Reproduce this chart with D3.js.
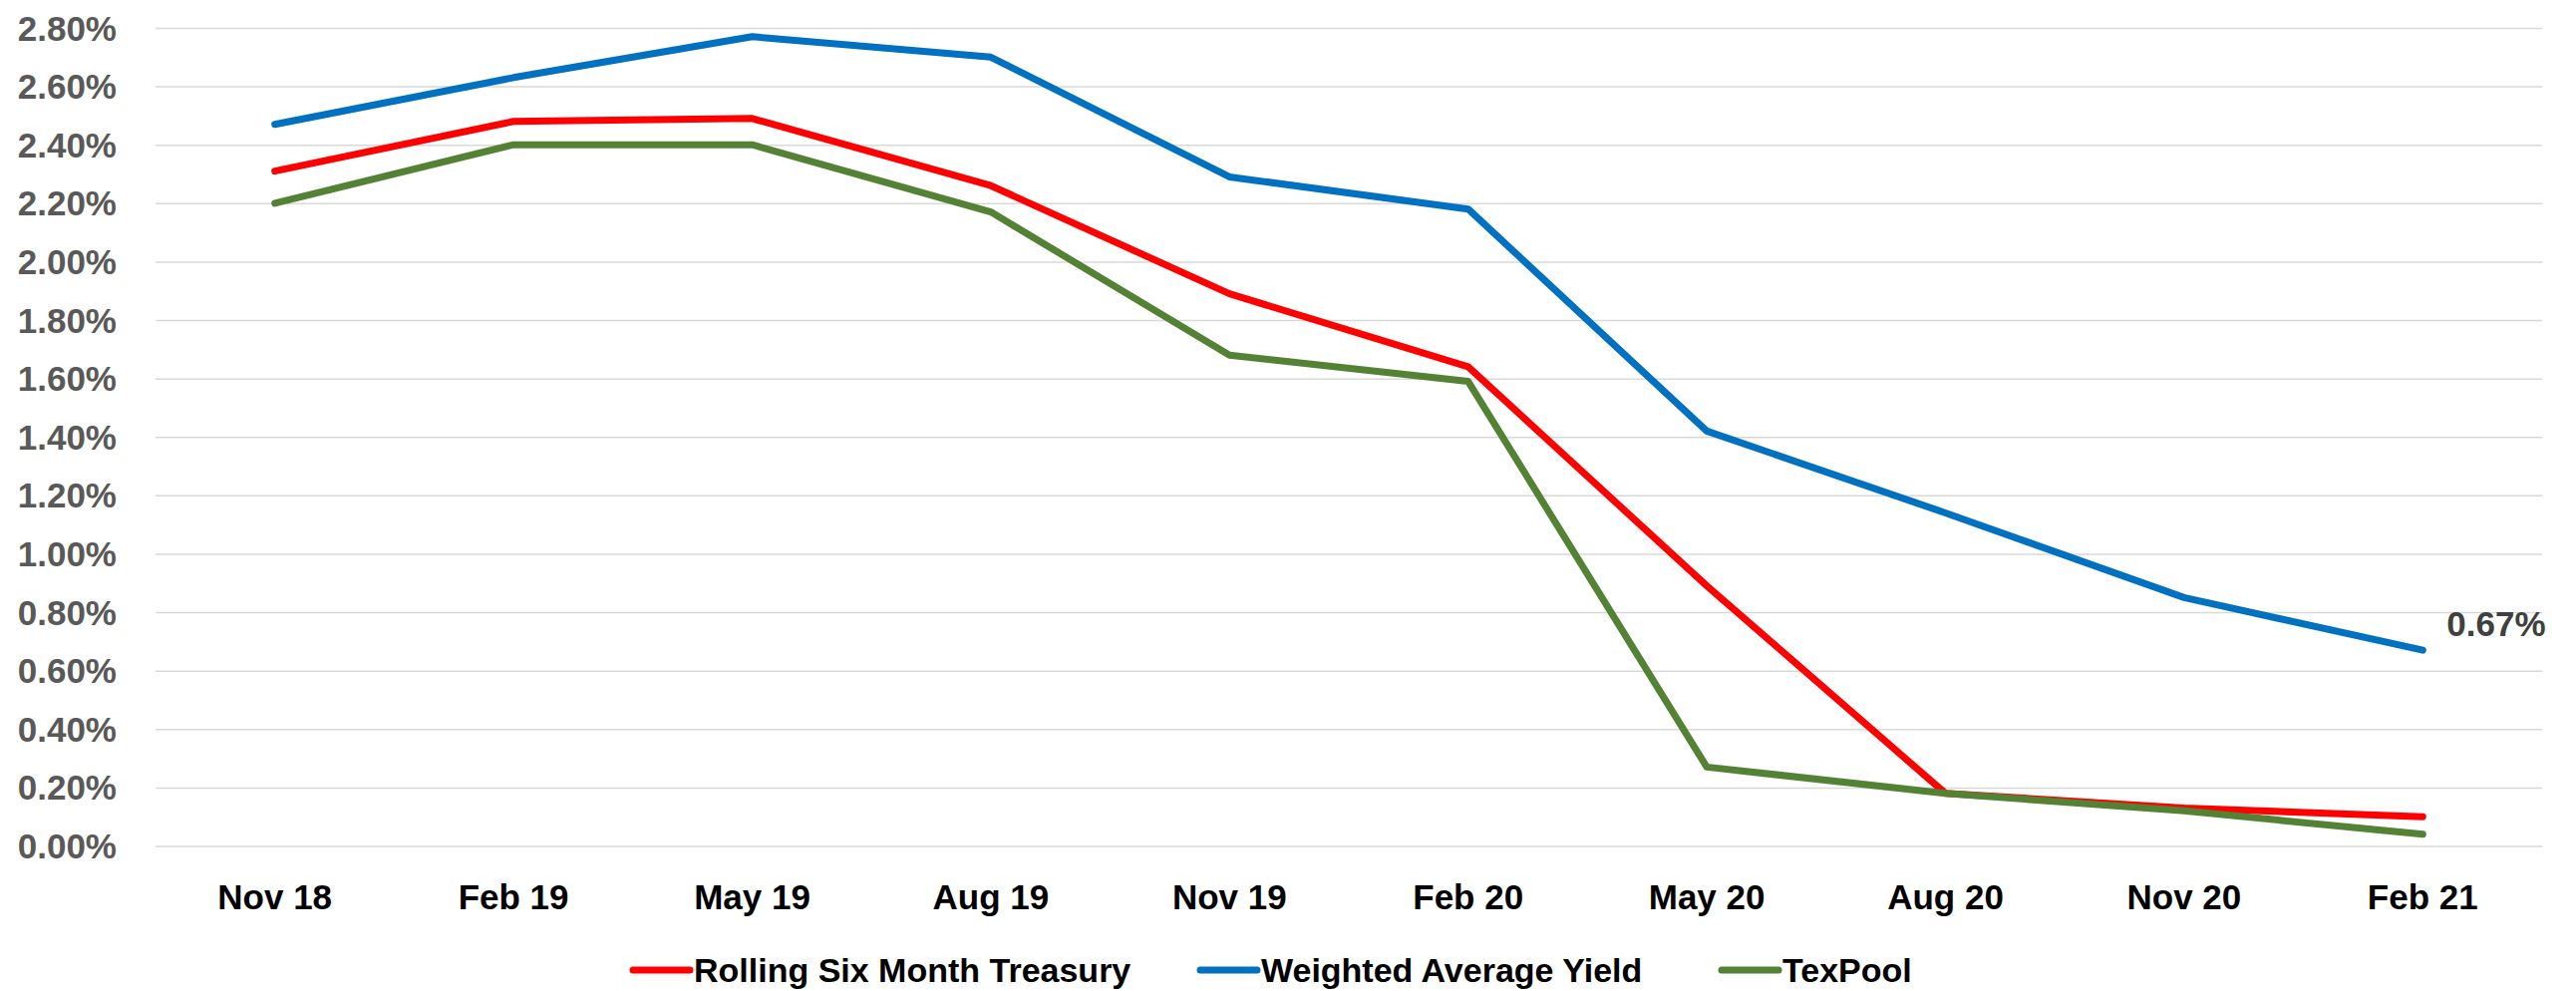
<!DOCTYPE html>
<html>
<head>
<meta charset="utf-8">
<script src="https://cdn.jsdelivr.net/npm/d3@7"></script>
<style>
  html, body { margin: 0; padding: 0; background: #fff; }
  svg { display: block; }
  text { font-family: "Liberation Sans", Arial, sans-serif; font-weight: bold; }
</style>
</head>
<body>
<svg id="chart" width="2584" height="994"></svg>
<script>
const categories = ["Nov 18","Feb 19","May 19","Aug 19","Nov 19","Feb 20","May 20","Aug 20","Nov 20","Feb 21"];
const rollingSixMonthTreasury = [2.31, 2.48, 2.49, 2.26, 1.89, 1.64, 0.89, 0.18, 0.13, 0.10];
const weightedAverageYield    = [2.47, 2.63, 2.77, 2.70, 2.29, 2.18, 1.42, 1.14, 0.85, 0.67];
const texPool                 = [2.20, 2.40, 2.40, 2.17, 1.68, 1.59, 0.27, 0.18, 0.12, 0.04];
const yTickValues = [0, 0.2, 0.4, 0.6, 0.8, 1.0, 1.2, 1.4, 1.6, 1.8, 2.0, 2.2, 2.4, 2.6, 2.8];
const seriesNames = ["Rolling Six Month Treasury", "Weighted Average Yield", "TexPool"];
const seriesColors = ["#FF0000", "#0070C0", "#548235"];
const endLabel = "0.67%";

const series = [
  {name: seriesNames[0], values: rollingSixMonthTreasury, color: seriesColors[0]},
  {name: seriesNames[1], values: weightedAverageYield, color: seriesColors[1]},
  {name: seriesNames[2], values: texPool, color: seriesColors[2]}
];

const svg = d3.select("#chart");
const plotLeft = 156, plotRight = 2550, plotTop = 28, plotBottom = 848.5;

const x = d3.scaleBand().domain(categories).range([plotLeft, plotRight]).padding(0);
const xc = c => x(c) + x.bandwidth() / 2;
const y = d3.scaleLinear().domain([0, 2.8]).range([plotBottom, plotTop]);

// gridlines
const yAxis = d3.axisLeft(y).tickValues(yTickValues)
  .tickSize(-(plotRight - plotLeft))
  .tickFormat(d => d.toFixed(2) + "%")
  .tickPadding(39);
const gy = svg.append("g").attr("transform", `translate(${plotLeft},0)`).call(yAxis);
gy.select(".domain").remove();
gy.selectAll(".tick line").attr("stroke", "#D9D9D9").attr("stroke-width", 1.5);
gy.selectAll(".tick text")
  .attr("fill", "#595959")
  .attr("font-size", 35)
  .attr("dy", null)
  .attr("y", 12)
  .style("font-family", '"Liberation Sans", Arial, sans-serif')
  .style("font-weight", "bold");

// x axis labels
const xAxis = d3.axisBottom(x).tickSize(0).tickPadding(0);
const gx = svg.append("g").attr("transform", `translate(0,${plotBottom})`).call(xAxis);
gx.select(".domain").remove();
gx.selectAll(".tick text")
  .attr("fill", "#000")
  .attr("font-size", 35)
  .attr("dy", null)
  .attr("y", 63)
  .style("font-family", '"Liberation Sans", Arial, sans-serif')
  .style("font-weight", "bold");

// lines
const line = d3.line().x((d, i) => xc(categories[i])).y(d => y(d));
svg.append("g").selectAll("path").data(series).join("path")
  .attr("d", s => line(s.values))
  .attr("fill", "none")
  .attr("stroke", s => s.color)
  .attr("stroke-width", 7)
  .attr("stroke-linecap", "round")
  .attr("stroke-linejoin", "round");

// end label
const lastIdx = categories.length - 1;
svg.append("text")
  .attr("x", xc(categories[lastIdx]) + 24)
  .attr("y", y(weightedAverageYield[lastIdx]) - 14)
  .attr("fill", "#404040")
  .attr("font-size", 35)
  .text(endLabel);

// legend
const legendY = 973;
const legendX = [635, 1204, 1727];
const swatch = 57, swatchGap = 4;
const items = svg.append("g").selectAll("g").data(series).join("g")
  .attr("transform", (d, i) => `translate(${legendX[i]},0)`);
items.append("line")
  .attr("x1", 0).attr("x2", swatch)
  .attr("y1", legendY).attr("y2", legendY)
  .attr("stroke", d => d.color).attr("stroke-width", 7).attr("stroke-linecap", "round");
items.append("text")
  .attr("x", swatch + swatchGap)
  .attr("y", legendY + 12)
  .attr("font-size", 34)
  .attr("fill", "#000")
  .text(d => d.name);
</script>
</body>
</html>
